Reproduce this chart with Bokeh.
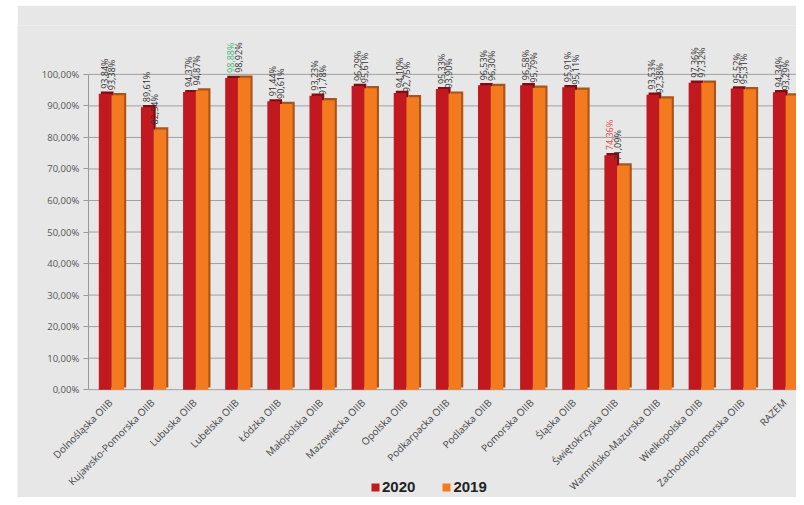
import math
from bokeh.plotting import figure
from bokeh.models import (ColumnDataSource, Range1d, FixedTicker, Legend, LegendItem, Spacer)
from bokeh.layouts import row, column
from bokeh.core.properties import value
from bokeh.embed import file_html
from bokeh.resources import INLINE

categories = ["Dolnośląska OIIB", "Kujawsko-Pomorska OIIB", "Lubuska OIIB", "Lubelska OIIB",
              "Łódzka OIIB", "Małopolska OIIB", "Mazowiecka OIIB", "Opolska OIIB",
              "Podkarpacka OIIB", "Podlaska OIIB", "Pomorska OIIB", "Śląska OIIB",
              "Świętokrzyska OIIB", "Warmińsko-Mazurska OIIB", "Wielkopolska OIIB",
              "Zachodniopomorska OIIB", "RAZEM"]
values_2020 = [93.84, 89.61, 94.37, 98.88, 91.44, 93.23, 96.29, 94.10, 95.33, 96.53,
               96.58, 95.91, 74.36, 93.53, 97.36, 95.52, 94.34]
values_2019 = [93.38, 82.54, 94.87, 98.92, 90.61, 91.78, 95.61, 92.75, 93.90, 96.30,
               95.79, 95.11, 71.09, 92.38, 97.32, 95.31, 93.29]
y_ticks = [0, 10, 20, 30, 40, 50, 60, 70, 80, 90, 100]

RED = "#c1191f"
RED_DARK = "#7e0e12"
ORANGE = "#f47a1f"
ORANGE_DARK = "#a9541a"
TEXT = "#333333"
FONT = "Open Sans"
AXIS_X = -0.55          # where the value axis stands (left of the first category)
X_END = 16.26

def fmt(v):
    return f"{v:.2f}".replace(".", ",") + "%"

idx = list(range(len(categories)))
hi = max(values_2020)
lo = min(values_2020)
col_2020 = ["#3dbb7e" if v == hi else ("#e8464b" if v == lo else TEXT) for v in values_2020]

src = ColumnDataSource(dict(
    idx=idx,
    zero=[0] * len(idx),
    cat=categories,
    x20=[i - 0.15 for i in idx],
    x19=[i + 0.15 for i in idx],
    v20=values_2020,
    v19=values_2019,
    sx20=[i - 0.15 + 0.05 for i in idx],
    sx19=[i + 0.15 + 0.05 for i in idx],
    st20=[v + 0.7 for v in values_2020],
    st19=[v + 0.7 for v in values_2019],
    lx20=[i - 0.17 for i in idx],
    lx19=[i + 0.01 for i in idx],
    t20=[fmt(v) for v in values_2020],
    t19=[fmt(v) for v in values_2019],
    c20=col_2020,
))
grid_src = ColumnDataSource(dict(y=y_ticks, x0=[AXIS_X] * len(y_ticks), x1=[X_END] * len(y_ticks)))

p = figure(width=779, height=492, x_range=Range1d(-2.23, X_END), y_range=Range1d(-34.2, 115.5),
           output_backend="svg", toolbar_location=None,
           min_border_left=0, min_border_right=0, min_border_top=20, min_border_bottom=0,
           background_fill_color="#e7e7e7", border_fill_color="#e7e7e7")
p.outline_line_color = None
p.xgrid.visible = False
p.ygrid.visible = False
p.xaxis.visible = False

# horizontal grid lines, from the value axis to the right edge
p.segment(x0="x0", y0="y", x1="x1", y1="y", source=grid_src, line_color="#a0a0a0", line_width=1)

# 3D-like back faces
p.vbar(x="sx20", top="st20", bottom=0.7, width=0.3, source=src, fill_color=RED_DARK, line_color=None)
p.vbar(x="sx19", top="st19", bottom=0.7, width=0.3, source=src, fill_color=ORANGE_DARK, line_color=None)
r20 = p.vbar(x="x20", top="v20", bottom=0, width=0.3, source=src, fill_color=RED, line_color=None)
r19 = p.vbar(x="x19", top="v19", bottom=0, width=0.3, source=src, fill_color=ORANGE, line_color=None)

p.text(x="lx20", y="v20", text="t20", source=src, angle=math.pi / 2, y_offset=-5,
       text_align="left", text_baseline="middle", text_font=value(FONT),
       text_font_size="9px", text_color="c20")
p.text(x="lx19", y="v19", text="t19", source=src, angle=math.pi / 2, y_offset=-5,
       text_align="left", text_baseline="middle", text_font=value(FONT),
       text_font_size="9px", text_color=TEXT)

# category labels under the baseline
p.text(x="idx", y="zero", text="cat", source=src, angle=math.pi / 4, x_offset=-1, y_offset=11,
       text_align="right", text_baseline="middle", text_font=value(FONT),
       text_font_size="10px", text_color="#444444")

ya = p.yaxis[0]
ya.fixed_location = AXIS_X
ya.ticker = FixedTicker(ticks=y_ticks)
ya.bounds = (0, 100)
ya.major_label_overrides = {t: f"{t:.2f}".replace(".", ",") + "%" for t in y_ticks}
ya.major_label_text_font = FONT
ya.major_label_text_font_size = "9.5px"
ya.major_label_text_color = "#555555"
ya.axis_line_color = "#9a9a9a"
ya.major_tick_line_color = "#9a9a9a"
ya.major_tick_in = 0
ya.major_tick_out = 5
ya.minor_tick_line_color = None
ya.major_label_standoff = 4

legend = Legend(items=[LegendItem(label="2020", renderers=[r20]),
                       LegendItem(label="2019", renderers=[r19])],
                orientation="horizontal", location=(353, 2),
                background_fill_alpha=0, border_line_color=None,
                label_text_font="Liberation Sans", label_text_font_style="bold",
                label_text_font_size="15px", label_text_color="#222222",
                glyph_width=10, glyph_height=10, label_standoff=2, spacing=26,
                padding=0, margin=0)
p.add_layout(legend, "center")

layout = row(Spacer(width=17), column(Spacer(height=5), p))
open("out.html", "w").write(file_html(layout, INLINE))
